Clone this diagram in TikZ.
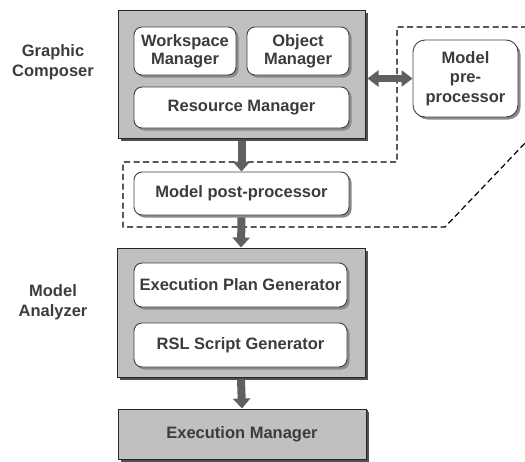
\documentclass[tikz,border=0pt]{standalone}
\usepackage{fontspec}
\setmainfont{Liberation Sans}
\usetikzlibrary{shadows,arrows.meta}
\definecolor{boxgray}{HTML}{C0C0C0}
\definecolor{txtgray}{HTML}{3C3C3C}
\definecolor{arrgray}{HTML}{606060}
\definecolor{shdark}{HTML}{505050}
\definecolor{shlight}{HTML}{8A8A8A}
\tikzset{
  outerbox/.style={draw=black!85, line width=1pt, fill=boxgray, rectangle,
    drop shadow={shadow xshift=3pt, shadow yshift=-3pt, fill=shdark, opacity=1}},
  innerbox/.style={draw=black!75, line width=0.9pt, fill=white, rounded corners=8pt,
    align=center, text=txtgray, font=\fontsize{16.5}{18}\bfseries\selectfont,
    drop shadow={shadow xshift=2.5pt, shadow yshift=-2.5pt, fill=shlight, opacity=1}},
  sidelabel/.style={align=center, text=txtgray, font=\fontsize{16.5}{20}\bfseries\selectfont},
  bigarrow/.style={draw=arrgray, line width=8pt, -{Triangle[length=10pt,width=17pt]}, shorten >=0pt},
  dblarrow/.style={draw=arrgray, line width=7pt, {Triangle[length=11pt,width=16pt]}-{Triangle[length=11pt,width=16pt]}},
  dashline/.style={draw=black, line width=1.2pt, dash pattern=on 6pt off 3.5pt}
}
\begin{document}
\begin{tikzpicture}[x=1pt,y=-1pt]
\useasboundingbox (0,0) rectangle (525,461);
% dashed region
\draw[dashline] (527,27) -- (397,27) -- (397,162) -- (123,162) -- (123,227) -- (445,227) -- (527,141);
% Graphic Composer
\node[outerbox, minimum width=247pt, minimum height=128pt] (gc) at (241.5,74) {};
\node[innerbox, minimum width=102pt, minimum height=48pt] (ws) at (185,51) {Workspace\\Manager};
\node[innerbox, minimum width=102pt, minimum height=48pt] (om) at (298,51) {Object\\Manager};
\node[innerbox, minimum width=215pt, minimum height=41pt] (rm) at (241.5,107.5) {Resource Manager};
\node[sidelabel] (lgc) at (53,62) {Graphic\\Composer};
% pre-processor
\node[innerbox, minimum width=105pt, minimum height=77pt, rounded corners=12pt,
  font=\fontsize{16.5}{19.5}\bfseries\selectfont] (pre) at (465.5,78.5) {Model\\pre-\\processor};
% post-processor
\node[innerbox, minimum width=215pt, minimum height=43pt] (post) at (241.5,193.5) {Model post-processor};
% Model Analyzer
\node[outerbox, minimum width=248pt, minimum height=129pt] (ma) at (241,312.5) {};
\node[innerbox, minimum width=213pt, minimum height=44pt] (epg) at (240.5,285) {Execution Plan Generator};
\node[innerbox, minimum width=213pt, minimum height=44pt] (rsl) at (240.5,345) {RSL Script Generator};
\node[sidelabel] (lma) at (53,302) {Model\\Analyzer};
% Execution Manager
\node[outerbox, minimum width=248pt, minimum height=50pt, text=txtgray,
  font=\fontsize{16.5}{18}\bfseries\selectfont,
  drop shadow={shadow xshift=2pt, shadow yshift=-1pt, fill=shdark, opacity=1}] (em) at (242,434) {Execution Manager};
% arrows
\draw[bigarrow] ([yshift=-2pt]gc.south) -- (post.north);
\draw[bigarrow] ([yshift=-2pt]post.south) -- (ma.north);
\draw[bigarrow] ([yshift=-2pt]ma.south) -- (em.north);
\draw[dblarrow] ([xshift=2pt]gc.east |- pre.west) -- (pre.west);
\end{tikzpicture}
\end{document}
